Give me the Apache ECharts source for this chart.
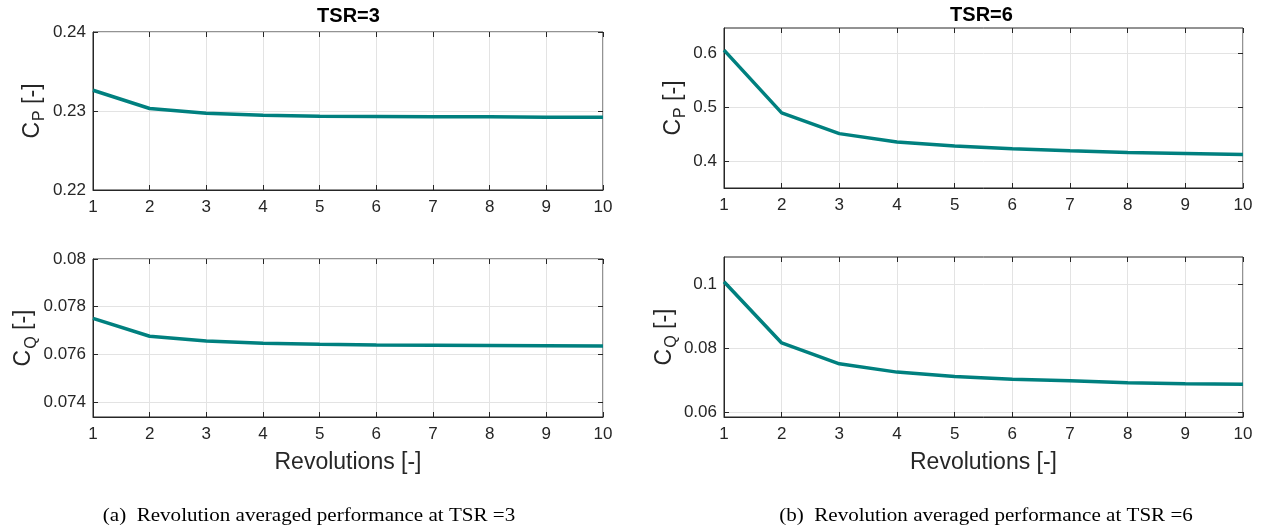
<!DOCTYPE html>
<html>
<head>
<meta charset="utf-8">
<script src="https://cdn.jsdelivr.net/npm/echarts@6/dist/echarts.min.js"></script>
<style>
html,body{margin:0;padding:0;background:#fff;}
#chart{width:1261px;height:527px;}
</style>
</head>
<body>
<div id="chart"></div>
<script>
// ---- data ----
var revolutions = [1, 2, 3, 4, 5, 6, 7, 8, 9, 10];
var cpTSR3 = [0.23263, 0.23032, 0.22973, 0.22947, 0.22935, 0.22931, 0.22926, 0.22926, 0.22922, 0.22920];
var cqTSR3 = [0.07751, 0.07676, 0.07656, 0.07646, 0.07642, 0.07639, 0.07638, 0.07637, 0.07636, 0.07635];
var cpTSR6 = [0.605, 0.489, 0.4506, 0.435, 0.4275, 0.4225, 0.4188, 0.4156, 0.4138, 0.412];
var cqTSR6 = [0.1007, 0.0816, 0.0751, 0.0725, 0.0711, 0.0703, 0.0698, 0.0692, 0.0689, 0.0687];
var xTicks = [1, 2, 3, 4, 5, 6, 7, 8, 9, 10];
var cpTSR3Ticks = [0.22, 0.23, 0.24];
var cqTSR3Ticks = [0.074, 0.076, 0.078, 0.08];
var cpTSR6Ticks = [0.4, 0.5, 0.6];
var cqTSR6Ticks = [0.06, 0.08, 0.1];
var panelTitles = ['TSR=3', 'TSR=6'];
var captions = ['(a)\u2002Revolution averaged performance at TSR =3', '(b)\u2002Revolution averaged performance at TSR =6'];

var chart = echarts.init(document.getElementById('chart'), null, {renderer: 'canvas'});

var AX = '#262626';
var GRIDC = '#e3e3e3';
var LINEC = '#00807f';
var FONT = '"Liberation Sans", Arial, sans-serif';
var SERIF = '"Liberation Serif", "Times New Roman", serif';

var grids = [
  {left: 93, top: 32, width: 510, height: 158},
  {left: 724, top: 28, width: 519, height: 160},
  {left: 93, top: 259, width: 510, height: 158},
  {left: 724, top: 257, width: 519, height: 160}
];
var yCfg = [
  {min: 0.22, max: 0.24, ticks: cpTSR3Ticks, sub: 'P', gap: 47, data: cpTSR3},
  {min: 0.35, max: 0.646, ticks: cpTSR6Ticks, sub: 'P', gap: 37, data: cpTSR6},
  {min: 0.07337, max: 0.08, ticks: cqTSR3Ticks, sub: 'Q', gap: 54, data: cqTSR3},
  {min: 0.0585, max: 0.1084, ticks: cqTSR6Ticks, sub: 'Q', gap: 45, data: cqTSR6}
];

var option = {
  animation: false,
  backgroundColor: '#fff',
  graphic: [
    {type: 'text', x: 348.5, y: 16, style: {text: panelTitles[0], align: 'center', verticalAlign: 'middle',
      font: 'bold 20px ' + FONT, fill: '#000'}},
    {type: 'text', x: 981.5, y: 15, style: {text: panelTitles[1], align: 'center', verticalAlign: 'middle',
      font: 'bold 20px ' + FONT, fill: '#000'}},
    {type: 'text', x: 309, y: 516, scaleX: 1.17, style: {text: captions[0], align: 'center', verticalAlign: 'middle',
      font: '18px ' + SERIF, fill: '#000'}},
    {type: 'text', x: 986, y: 516, scaleX: 1.17, style: {text: captions[1], align: 'center', verticalAlign: 'middle',
      font: '18px ' + SERIF, fill: '#000'}}
  ],
  grid: grids.map(function (g) {
    return Object.assign({show: true, borderColor: AX, borderWidth: 1, backgroundColor: '#fff', containLabel: false, outerBoundsMode: 'none'}, g);
  }),
  xAxis: [],
  yAxis: [],
  series: []
};

for (var i = 0; i < 4; i++) {
  var isBottom = i >= 2;
  option.xAxis.push({
    type: 'value', gridIndex: i, position: 'bottom', min: 1, max: 10, interval: 1,
    axisLine: {show: true, onZero: false, lineStyle: {color: AX, width: 1}},
    axisTick: {show: true, inside: true, length: 5, lineStyle: {color: AX}},
    axisLabel: {show: true, color: AX, fontFamily: FONT, fontSize: 17, margin: 9,
      showMinLabel: true, showMaxLabel: true, hideOverlap: false},
    splitLine: {show: true, lineStyle: {color: GRIDC, width: 1}},
    name: isBottom ? 'Revolutions [-]' : '',
    nameLocation: 'middle', nameGap: 34,
    nameTextStyle: {color: AX, fontFamily: FONT, fontSize: 23}
  });
  option.xAxis.push({
    type: 'value', gridIndex: i, position: 'top', min: 1, max: 10, interval: 1,
    axisLine: {show: false},
    axisTick: {show: true, inside: true, length: 5, lineStyle: {color: AX}},
    axisLabel: {show: false},
    splitLine: {show: false}
  });
  var yc = yCfg[i];
  option.yAxis.push({
    type: 'value', gridIndex: i, position: 'left', min: yc.min, max: yc.max,
    axisLine: {show: true, onZero: false, lineStyle: {color: AX, width: 1}},
    axisTick: {show: true, inside: true, length: 5, lineStyle: {color: AX}, customValues: yc.ticks},
    axisLabel: {show: true, color: AX, fontFamily: FONT, fontSize: 17, margin: 7, customValues: yc.ticks,
      formatter: function (v) { return String(+v.toFixed(4)); }},
    splitLine: {show: true, lineStyle: {color: GRIDC, width: 1}},
    name: '{a|C}{b|' + yc.sub + '}{a| [-]}',
    nameLocation: 'middle', nameGap: yc.gap,
    nameTextStyle: {
      color: AX, fontFamily: FONT,
      rich: {
        a: {fontSize: 23, color: AX, fontFamily: FONT, lineHeight: 25, verticalAlign: 'top'},
        b: {fontSize: 16, color: AX, fontFamily: FONT, lineHeight: 16, verticalAlign: 'top', padding: [11, 0, 0, 1]}
      }
    }
  });
  option.yAxis.push({
    type: 'value', gridIndex: i, position: 'right', min: yc.min, max: yc.max,
    axisLine: {show: false},
    axisTick: {show: true, inside: true, length: 5, lineStyle: {color: AX}, customValues: yc.ticks},
    axisLabel: {show: false, customValues: yc.ticks},
    splitLine: {show: false}
  });
  option.series.push({
    type: 'line', xAxisIndex: 2 * i, yAxisIndex: 2 * i,
    data: revolutions.map(function (r, k) { return [r, yc.data[k]]; }),
    showSymbol: false, symbol: 'none',
    lineStyle: {color: LINEC, width: 3.5},
    itemStyle: {color: LINEC},
    z: 5
  });
}

chart.setOption(option);
</script>
</body>
</html>
